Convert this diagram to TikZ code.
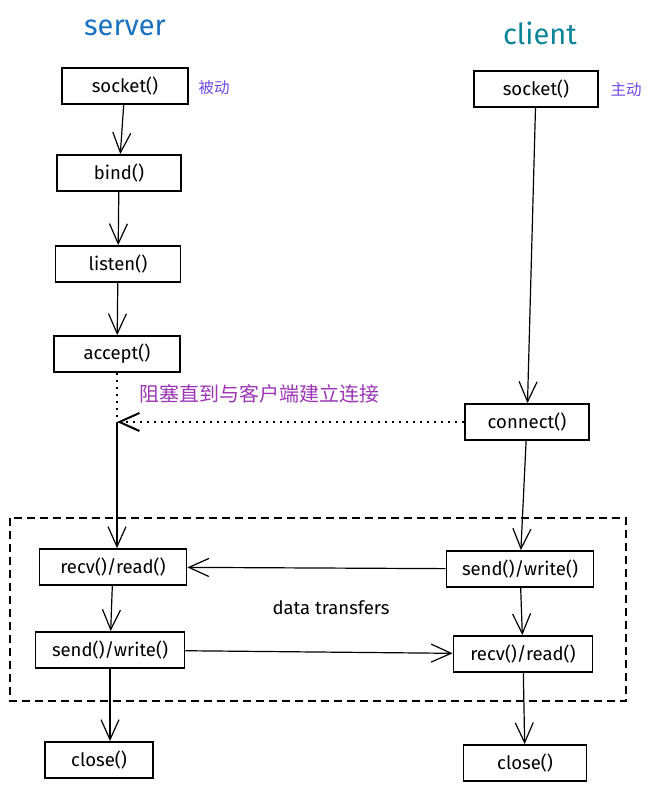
\documentclass[tikz,border=0pt]{standalone}
\usepackage{fontspec}
\setmainfont{Fira Sans}
\newfontfamily\cjk{Noto Sans CJK SC}
\usetikzlibrary{arrows.meta}
\definecolor{srvblue}{HTML}{1971C2}
\definecolor{clitea}{HTML}{0C8599}
\definecolor{notevio}{HTML}{7048E8}
\definecolor{blockpur}{HTML}{9C36B5}

\begin{document}
\begin{tikzpicture}[x=1pt, y=-1pt, font=\fontsize{18.5}{21}\selectfont,
  box/.style={draw, line width=1.8pt, minimum height=36pt, inner sep=0pt},
  title/.style={font=\fontsize{29}{31}\selectfont},
  note/.style={font=\cjk\fontsize{15.5}{17}\selectfont, text=notevio},
  flow/.style={-{Straight Barb[length=20pt, width=18pt]}, line width=1.2pt},
  waitline/.style={line width=2pt, dash pattern=on 2.5pt off 4.5pt}]
  \useasboundingbox (0,0) rectangle (652,790);
  % titles
  \node[title, text=srvblue] (srvtitle) at (125,28) {server};
  \node[title, text=clitea] (clititle) at (540,33) {client};
  % server side
  \node[box, minimum width=126pt] (ssock) at (125,86) {socket()};
  \node[note] (passive) at (214,88) {被动};
  \node[box, minimum width=124pt] (bind) at (119,173) {bind()};
  \node[box, minimum width=125pt] (listen) at (118,264) {listen()};
  \node[box, minimum width=126pt] (accept) at (117,354) {accept()};
  \node[box, minimum width=147pt] (srecv) at (113,567) {recv()/read()};
  \node[box, minimum width=149pt] (ssend) at (110,650) {send()/write()};
  \node[box, minimum width=108pt] (sclose) at (99,760) {close()};
  % client side
  \node[box, minimum width=124pt] (csock) at (536,89) {socket()};
  \node[note] (active) at (626,90) {主动};
  \node[box, minimum width=124pt] (connect) at (527,422) {connect()};
  \node[box, minimum width=147pt] (csend) at (520,569) {send()/write()};
  \node[box, minimum width=139pt] (crecv) at (523,654) {recv()/read()};
  \node[box, minimum width=123pt] (cclose) at (525,763) {close()};
  % blocking
  \coordinate (wait) at (117,422);
  \node[font=\cjk\fontsize{20}{22}\selectfont, text=blockpur] (block) at (259,394) {阻塞直到与客户端建立连接};
  \draw[waitline] (accept) -- (wait);
  \draw[waitline, -{Straight Barb[length=20pt, width=18pt]}] (connect) -- (wait);
  % data transfer area
  \draw[line width=1.2pt, dash pattern=on 8pt off 5pt] (10,518) rectangle (626,701);
  \node (transfer) at (331,608) {data transfers};
  % server arrows
  \draw[flow] (ssock) -- (bind);
  \draw[flow] (bind) -- (listen);
  \draw[flow] (listen) -- (accept);
  \draw[flow] (wait) -- (wait |- srecv.north);
  \draw[flow] (srecv) -- (ssend);
  \draw[flow] (ssend) -- (sclose.north -| ssend);
  % client arrows
  \draw[flow] (csock) -- (connect);
  \draw[flow] (connect) -- (csend);
  \draw[flow] (csend) -- (crecv);
  \draw[flow] (crecv) -- (cclose);
  % across
  \draw[flow] (csend) -- (srecv);
  \draw[flow] (ssend) -- (crecv);
\end{tikzpicture}
\end{document}
